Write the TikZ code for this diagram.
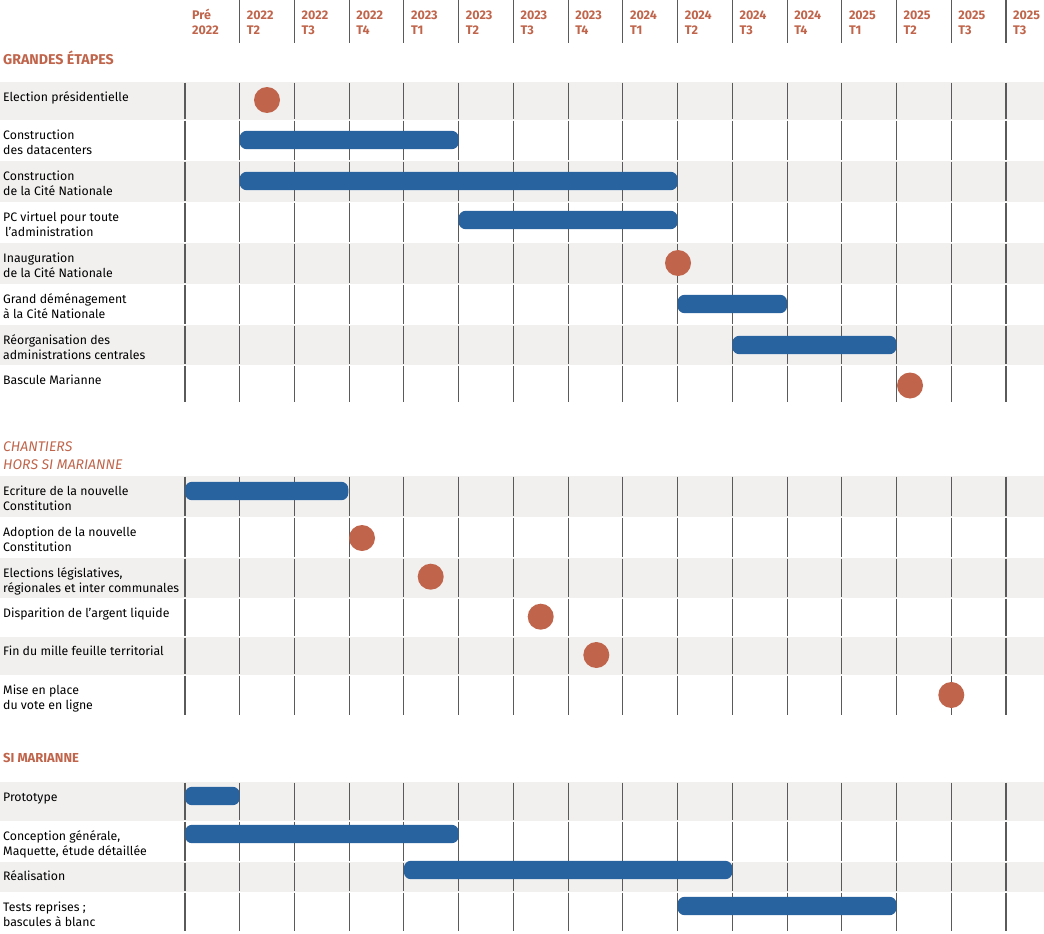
\documentclass[tikz,border=0pt]{standalone}
\usepackage{fontspec}
\setmainfont{Fira Sans}
\definecolor{rust}{HTML}{C0654B}
\definecolor{barblue}{HTML}{2863A0}
\definecolor{band}{HTML}{F1F0EF}
\definecolor{grid}{HTML}{5A5A5A}
\tikzset{
  lbl/.style={anchor=base west, align=left, inner sep=0pt, font=\fontsize{12.3}{15}\selectfont},
  colhead/.style={anchor=base west, align=left, inner sep=0pt, text=rust, font=\bfseries\fontsize{12.5}{14.3}\selectfont},
  sechead/.style={anchor=base west, align=left, inner sep=0pt, text=rust, font=\bfseries\fontsize{13}{17}\selectfont},
  secheadit/.style={anchor=base west, align=left, inner sep=0pt, text=rust, font=\itshape\fontsize{14}{17.5}\selectfont},
  bandfill/.style={fill=band},
  gridline/.style={draw=grid, line width=1.1pt},
  gantbar/.style={fill=barblue, rounded corners=7pt},
  milestone/.style={circle, fill=rust, minimum size=26pt, inner sep=0pt}
}
\begin{document}
\begin{tikzpicture}[x=1pt,y=-1pt]
\useasboundingbox (0,0) rectangle (1044,934);
% bands
\foreach \a/\b in {82/120,161/202,243/284,325/365,476/517,558/598,637/675,782/821,862/892}
  \fill[bandfill] (0,\a) rectangle (1044,\b);
% header lines
\foreach \i in {1,...,15}
  \draw[gridline] ({185+54.733*\i},0) -- ({185+54.733*\i},43);
% grid lines per row
\foreach \a/\b in {82/120,120/161,161/202,202/243,243/284,284/325,325/365,365/403,
                   476/517,517/558,558/598,598/637,637/675,675/716,
                   782/821,821/862,862/892,892/932}
  \foreach \i in {0,...,15}
    \draw[gridline] ({185+54.733*\i},\a+0.6) -- ({185+54.733*\i},\b-0.6);
% column headers (base anchor = last line)
\foreach \i/\t/\u in {0/Pré/2022,1/2022/T2,2/2022/T3,3/2022/T4,4/2023/T1,5/2023/T2,6/2023/T3,7/2023/T4,
                     8/2024/T1,9/2024/T2,10/2024/T3,11/2024/T4,12/2025/T1,13/2025/T2,14/2025/T3,15/2025/T3}
  \node[colhead] (h\i) at ({192+54.733*\i},34.3) {\t\\\u};
% section headings
\node[sechead, font=\bfseries\fontsize{14.2}{17}\selectfont] (s1) at (3,64) {GRANDES ÉTAPES};
\node[secheadit] (s2) at (3,469) {CHANTIERS\\HORS SI MARIANNE};
\node[sechead] (s3) at (3,762.5) {SI MARIANNE};
% row labels (y = baseline of last line)
\node[lbl] (r1) at (3,101) {Election présidentielle};
\node[lbl] (r2) at (3,154) {Construction\\des datacenters};
\node[lbl] (r3) at (3,195) {Construction\\de la Cité Nationale};
\node[lbl] (r4) at (3,236) {PC virtuel pour toute\\\hspace{2pt}l’administration};
\node[lbl] (r5) at (3,277) {Inauguration\\de la Cité Nationale};
\node[lbl] (r6) at (3,318) {Grand déménagement\\à la Cité Nationale};
\node[lbl] (r7) at (3,359) {Réorganisation des\\administrations centrales};
\node[lbl] (r8) at (3,384) {Bascule Marianne};
\node[lbl] (c1) at (3,510) {Ecriture de la nouvelle\\Constitution};
\node[lbl] (c2) at (3,551) {Adoption de la nouvelle\\Constitution};
\node[lbl] (c3) at (3,592) {Elections législatives,\\régionales et inter communales};
\node[lbl] (c4) at (3,617) {Disparition de l’argent liquide};
\node[lbl] (c5) at (3,655.5) {Fin du mille feuille territorial};
\node[lbl] (c6) at (3,709) {Mise en place\\du vote en ligne};
\node[lbl] (m1) at (3,801) {Prototype};
\node[lbl] (m2) at (3,855) {Conception générale,\\Maquette, étude détaillée};
\node[lbl] (m3) at (3,880.5) {Réalisation};
\node[lbl] (m4) at (3,926) {Tests reprises ;\\bascules à blanc};
% bars
\fill[gantbar] (239.7,130.8) rectangle (458.7,149.2);
\fill[gantbar] (239.7,171.8) rectangle (677.6,190.2);
\fill[gantbar] (458.7,210.8) rectangle (677.6,229.2);
\fill[gantbar] (677.6,294.8) rectangle (787.1,313.2);
\fill[gantbar] (732.3,335.8) rectangle (896.5,354.2);
\fill[gantbar] (185,481.8) rectangle (348.3,500.2);
\fill[gantbar] (185,786.8) rectangle (239.7,805.2);
\fill[gantbar] (185,824.8) rectangle (458.7,843.2);
\fill[gantbar] (403.9,860.8) rectangle (732.3,879.2);
\fill[gantbar] (677.6,896.8) rectangle (896.5,915.2);
% milestones
\node[milestone] (d1) at (267,100) {};
\node[milestone] (d2) at (678,263) {};
\node[milestone] (d3) at (910,385.5) {};
\node[milestone] (d4) at (362,538) {};
\node[milestone] (d5) at (430.7,576.7) {};
\node[milestone] (d6) at (540.7,616.7) {};
\node[milestone] (d7) at (596.3,655) {};
\node[milestone] (d8) at (951.3,695) {};
\end{tikzpicture}
\end{document}
